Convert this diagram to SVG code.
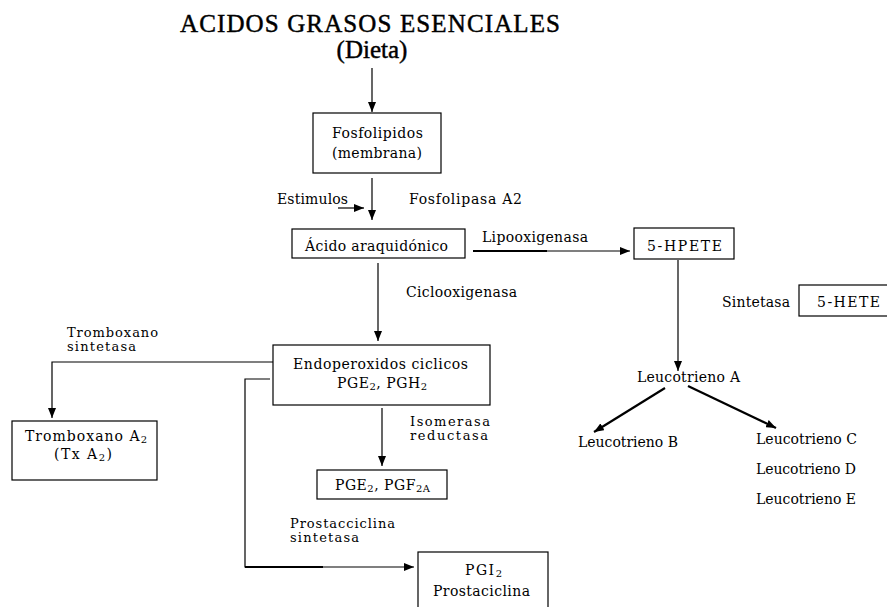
<svg xmlns="http://www.w3.org/2000/svg" width="887" height="607" viewBox="0 0 887 607">
<defs>
<style>
.t{font-family:"DejaVu Serif","Liberation Serif",serif;font-size:14px;fill:#000}
.s{font-size:13px}
.ttl{font-family:"Liberation Serif","DejaVu Serif",serif;font-size:25px;fill:#000;stroke:#000;stroke-width:0.45}
.box{fill:#fff;stroke:#000;stroke-width:1.2}
.ln{fill:none;stroke:#000;stroke-width:1.2}
.thk{fill:none;stroke:#000;stroke-width:2.2}
.sub{font-size:10px}
</style>
<marker id="ah" markerUnits="userSpaceOnUse" markerWidth="10" markerHeight="8" refX="10" refY="4" orient="auto">
<path d="M0,0 L10,4 L0,8 Z" fill="#000"/>
</marker>
</defs>
<rect width="887" height="607" fill="#fff"/>

<g id="title">
<text class="ttl" x="180" y="32" textLength="380">ACIDOS GRASOS ESENCIALES</text>
<text class="ttl" x="372" y="58" text-anchor="middle">(Dieta)</text>
</g>

<g id="connectors">
<line class="ln" x1="372" y1="68" x2="372" y2="112" marker-end="url(#ah)"/>
<line class="ln" x1="372" y1="178" x2="372" y2="220" marker-end="url(#ah)"/>
<line class="ln" x1="338" y1="208" x2="364" y2="208" marker-end="url(#ah)"/>
<line class="ln" x1="473" y1="251" x2="630" y2="251" marker-end="url(#ah)"/>
<line class="thk" x1="473" y1="251" x2="547" y2="251"/>
<line class="ln" x1="378" y1="263" x2="378" y2="341" marker-end="url(#ah)"/>
<line class="ln" x1="678" y1="260" x2="678" y2="371" marker-end="url(#ah)"/>
<line class="thk" x1="665" y1="388" x2="594" y2="432" marker-end="url(#ah)"/>
<line class="thk" x1="688" y1="386" x2="776" y2="428" marker-end="url(#ah)"/>
<polyline class="ln" points="273,362 52,362 52,418" marker-end="url(#ah)"/>
<line class="ln" x1="382" y1="408" x2="382" y2="466" marker-end="url(#ah)"/>
<polyline class="ln" points="270,379 245,379 245,567 414,567" marker-end="url(#ah)"/>
<line class="thk" x1="245" y1="567" x2="323" y2="567"/>
</g>

<g id="fosfolipidos">
<rect class="box" x="313" y="113" width="128" height="60"/>
<text class="t" x="332" y="138" textLength="91">Fosfolipidos</text>
<text class="t" x="332" y="158" textLength="90">(membrana)</text>
</g>

<g id="estimulos">
<text class="t" x="277" y="204" textLength="71">Estimulos</text>
</g>
<g id="fosfolipasa">
<text class="t" x="409" y="204" textLength="113">Fosfolipasa A2</text>
</g>

<g id="acido">
<rect class="box" x="292" y="229" width="173" height="29"/>
<text class="t" x="305" y="251" textLength="143">Ácido araquidónico</text>
</g>

<g id="lipooxigenasa">
<text class="t" x="482" y="242" textLength="106">Lipooxigenasa</text>
</g>

<g id="hpete">
<rect class="box" x="634" y="228" width="100" height="31"/>
<text class="t" x="647" y="251" textLength="75">5-HPETE</text>
</g>

<g id="sintetasa">
<text class="t" x="722" y="307" textLength="68">Sintetasa</text>
</g>

<g id="hete">
<rect class="box" x="799" y="285" width="92" height="31"/>
<text class="t" x="817" y="307" textLength="63">5-HETE</text>
</g>

<g id="ciclooxigenasa">
<text class="t" x="406" y="297" textLength="111">Ciclooxigenasa</text>
</g>

<g id="leucotrienoA">
<text class="t" x="637" y="382" textLength="103">Leucotrieno A</text>
</g>
<g id="leucotrienoB">
<text class="t" x="578" y="447" textLength="100">Leucotrieno B</text>
</g>
<g id="leucotrienoC">
<text class="t" x="756" y="444" textLength="101">Leucotrieno C</text>
</g>
<g id="leucotrienoD">
<text class="t" x="756" y="474" textLength="100">Leucotrieno D</text>
</g>
<g id="leucotrienoE">
<text class="t" x="756" y="504" textLength="100">Leucotrieno E</text>
</g>

<g id="endoperoxidos">
<rect class="box" x="273" y="345" width="217" height="60"/>
<text class="t" x="293" y="369" textLength="175">Endoperoxidos ciclicos</text>
<text class="t" x="337" y="388" textLength="90">PGE<tspan class="sub" dy="2">2</tspan><tspan dy="-2">, PGH</tspan><tspan class="sub" dy="2">2</tspan></text>
</g>

<g id="tromboxanoSint">
<text class="t s" x="67" y="337" textLength="91">Tromboxano</text>
<text class="t s" x="67" y="351" textLength="69">sintetasa</text>
</g>

<g id="tromboxanoA2">
<rect class="box" x="12" y="421" width="145" height="59"/>
<text class="t" x="25" y="441" textLength="122">Tromboxano A<tspan class="sub" dy="2">2</tspan></text>
<text class="t" x="54" y="459" textLength="58">(Tx A<tspan class="sub" dy="2">2</tspan><tspan dy="-2">)</tspan></text>
</g>

<g id="isomerasa">
<text class="t s" x="410" y="426" textLength="80">Isomerasa</text>
<text class="t s" x="410" y="440" textLength="78">reductasa</text>
</g>

<g id="pge2">
<rect class="box" x="317" y="470" width="130" height="29"/>
<text class="t" x="335" y="490" textLength="95">PGE<tspan class="sub" dy="2">2</tspan><tspan dy="-2">, PGF</tspan><tspan class="sub" dy="2">2A</tspan></text>
</g>

<g id="prostacSint">
<text class="t s" x="290" y="528" textLength="105">Prostacciclina</text>
<text class="t s" x="290" y="542" textLength="69">sintetasa</text>
</g>

<g id="pgi2">
<rect class="box" x="418" y="552" width="130" height="60"/>
<text class="t" x="465" y="575" textLength="37">PGI<tspan class="sub" dy="2">2</tspan></text>
<text class="t" x="433" y="596" textLength="97">Prostaciclina</text>
</g>
</svg>
